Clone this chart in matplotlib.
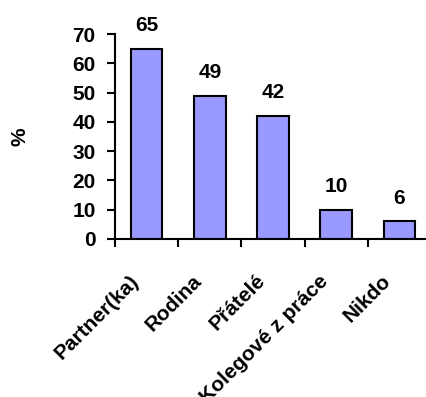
import matplotlib
matplotlib.use("Agg")
import matplotlib.pyplot as plt

categories = ["Partner(ka)", "Rodina", "Přátelé", "Kolegové z práce", "Nikdo"]
values = [65, 49, 42, 10, 6]
yticks = [0, 10, 20, 30, 40, 50, 60, 70]

plt.rcParams['font.family'] = ['Liberation Sans', 'DejaVu Sans']
plt.rcParams['font.weight'] = 'bold'

W, H = 426, 397
fig = plt.figure(figsize=(W/100, H/100), dpi=100)
ax = fig.add_axes([115/W, 1-239/H, 316/W, 205/H])

x = list(range(len(categories)))
ax.bar(x, values, width=0.5, color='#9999ff', edgecolor='black', linewidth=1.5, zorder=2)
ax.set_xlim(-0.5, len(categories)-0.5)
ax.set_ylim(0, 70)
ax.set_yticks(yticks)
ax.set_yticklabels([str(t) for t in yticks], fontsize=15, fontweight='bold')

ax.set_xticks([i - 0.5 for i in x])
ax.set_xticklabels([])
ax.tick_params(axis='x', which='major', length=6, width=1.5, direction='out')
ax.tick_params(axis='y', length=6, width=1.5, direction='out', pad=8)

for s in ['top', 'right']:
    ax.spines[s].set_visible(False)
for s in ['left', 'bottom']:
    ax.spines[s].set_linewidth(1.5)

for xi, lab in zip(x, categories):
    ax.annotate(lab, xy=(xi, 0), xycoords=('data', 'axes fraction'),
                xytext=(-8, -28), textcoords='offset points',
                ha='right', va='center', rotation=45, rotation_mode='anchor',
                fontsize=15, fontweight='bold', annotation_clip=False)

for xi, v in zip(x, values):
    ax.annotate(str(v), (xi, v), xytext=(0, 10), textcoords='offset points',
                ha='center', va='bottom', fontsize=15, fontweight='bold')

fig.text(20/W, 1-137/H, '%', rotation=90, ha='center', va='center',
         fontsize=15, fontweight='bold')

fig.savefig('out.png', dpi=100)
